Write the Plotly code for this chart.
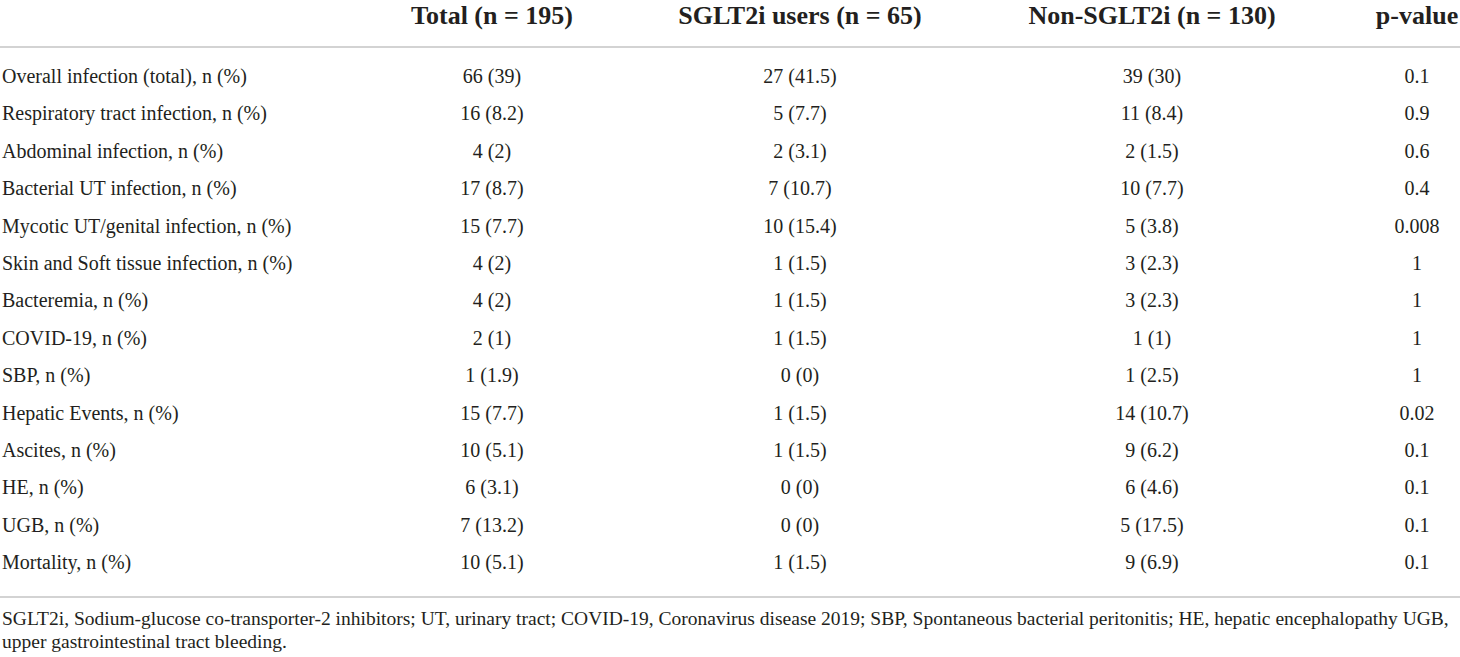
import plotly.graph_objects as go

# ---- data ----
headers = ["Total (n = 195)", "SGLT2i users (n = 65)", "Non-SGLT2i (n = 130)", "p-value"]
row_labels = [
    "Overall infection (total), n (%)",
    "Respiratory tract infection, n (%)",
    "Abdominal infection, n (%)",
    "Bacterial UT infection, n (%)",
    "Mycotic UT/genital infection, n (%)",
    "Skin and Soft tissue infection, n (%)",
    "Bacteremia, n (%)",
    "COVID-19, n (%)",
    "SBP, n (%)",
    "Hepatic Events, n (%)",
    "Ascites, n (%)",
    "HE, n (%)",
    "UGB, n (%)",
    "Mortality, n (%)",
]
total_vals = ["66 (39)", "16 (8.2)", "4 (2)", "17 (8.7)", "15 (7.7)", "4 (2)", "4 (2)",
              "2 (1)", "1 (1.9)", "15 (7.7)", "10 (5.1)", "6 (3.1)", "7 (13.2)", "10 (5.1)"]
sglt2i_vals = ["27 (41.5)", "5 (7.7)", "2 (3.1)", "7 (10.7)", "10 (15.4)", "1 (1.5)", "1 (1.5)",
               "1 (1.5)", "0 (0)", "1 (1.5)", "1 (1.5)", "0 (0)", "0 (0)", "1 (1.5)"]
non_sglt2i_vals = ["39 (30)", "11 (8.4)", "2 (1.5)", "10 (7.7)", "5 (3.8)", "3 (2.3)", "3 (2.3)",
                   "1 (1)", "1 (2.5)", "14 (10.7)", "9 (6.2)", "6 (4.6)", "5 (17.5)", "9 (6.9)"]
p_values = ["0.1", "0.9", "0.6", "0.4", "0.008", "1", "1", "1", "1", "0.02", "0.1", "0.1", "0.1", "0.1"]
footnote_lines = [
    "SGLT2i, Sodium-glucose co-transporter-2 inhibitors; UT, urinary tract; COVID-19, Coronavirus disease 2019; SBP, Spontaneous bacterial peritonitis; HE, hepatic encephalopathy UGB,",
    "upper gastrointestinal tract bleeding.",
]

# ---- layout constants ----
W, H = 1460, 657
FONT = "Liberation Serif"
COLOR = "#231f20"
col_x = [492, 800, 1152, 1417]
label_x = 2
header_y = 17
row_y0, row_step = 78, 37.4
top_rule_y, bottom_rule_y = 47, 597
foot_y0, foot_step = 620, 23.5
row_font = 20
header_font = 26
foot_font = 19.5

row_ys = [row_y0 + i * row_step for i in range(len(row_labels))]

fig = go.Figure()

# header
fig.add_trace(go.Scatter(
    x=col_x, y=[header_y] * len(headers), mode="text",
    text=[f"<b>{h}</b>" for h in headers], textposition="middle center",
    textfont=dict(family=FONT, size=header_font, color=COLOR),
    hoverinfo="skip", showlegend=False, cliponaxis=False))

# row labels
fig.add_trace(go.Scatter(
    x=[label_x] * len(row_labels), y=row_ys, mode="text",
    text=row_labels, textposition="middle right",
    textfont=dict(family=FONT, size=row_font, color=COLOR),
    hoverinfo="skip", showlegend=False, cliponaxis=False))

# value columns
for cx, vals in zip(col_x, [total_vals, sglt2i_vals, non_sglt2i_vals, p_values]):
    fig.add_trace(go.Scatter(
        x=[cx] * len(vals), y=row_ys, mode="text",
        text=vals, textposition="middle center",
        textfont=dict(family=FONT, size=row_font, color=COLOR),
        hoverinfo="skip", showlegend=False, cliponaxis=False))

# footnote
fig.add_trace(go.Scatter(
    x=[label_x] * len(footnote_lines),
    y=[foot_y0 + i * foot_step for i in range(len(footnote_lines))],
    mode="text", text=footnote_lines, textposition="middle right",
    textfont=dict(family=FONT, size=foot_font, color=COLOR),
    hoverinfo="skip", showlegend=False, cliponaxis=False))

# rules
for ry in (top_rule_y, bottom_rule_y):
    fig.add_shape(type="line", xref="x", yref="y", x0=0, x1=W, y0=ry, y1=ry,
                  line=dict(color="#c4c4c4", width=1.5))

fig.update_layout(
    width=W, height=H,
    margin=dict(l=0, r=0, t=0, b=0),
    paper_bgcolor="white", plot_bgcolor="white",
    xaxis=dict(range=[0, W], visible=False, fixedrange=True),
    yaxis=dict(range=[H, 0], visible=False, fixedrange=True),
)

fig.write_html(
    "out.html",
    config={"displayModeBar": False},
    post_script="document.body.style.margin='0';document.body.style.overflow='hidden';",
)
